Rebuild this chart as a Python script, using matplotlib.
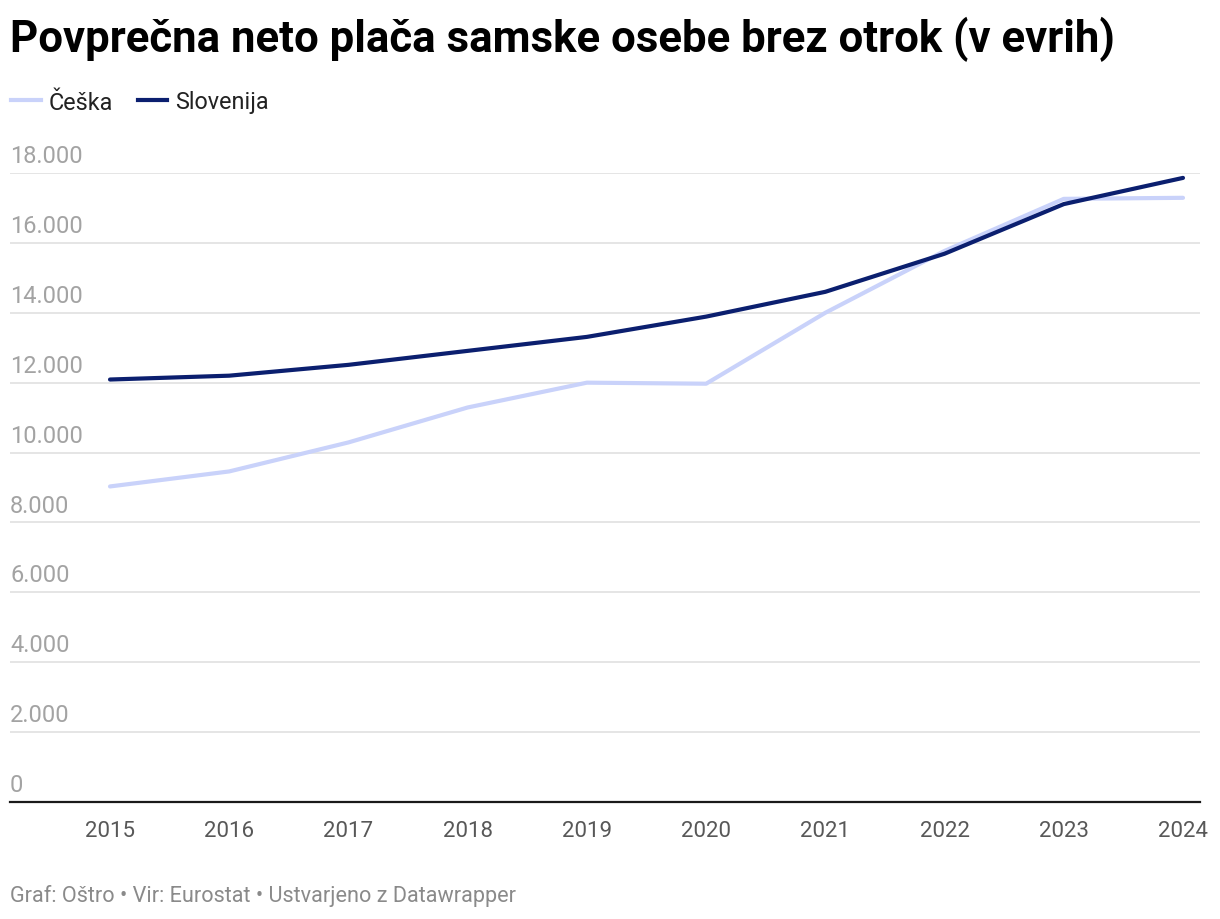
import matplotlib
matplotlib.use("Agg")
import matplotlib.pyplot as plt
from matplotlib.lines import Line2D

plt.rcParams['font.family'] = ['Roboto', 'DejaVu Sans']

years = [2015, 2016, 2017, 2018, 2019, 2020, 2021, 2022, 2023, 2024]
ceska = [9030, 9460, 10290, 11290, 12000, 11970, 14000, 15770, 17260, 17290]
slovenija = [12090, 12200, 12510, 12910, 13310, 13890, 14600, 15690, 17110, 17860]
yticks = [0, 2000, 4000, 6000, 8000, 10000, 12000, 14000, 16000, 18000]

c_ceska = '#c9d2fa'
c_slo = '#0b1f6f'

fig = plt.figure(figsize=(12.2, 9.2), dpi=100)
ax = fig.add_axes([10 / 1220, 117 / 920, 1190 / 1220, 629 / 920])

ax.plot(years, ceska, color=c_ceska, lw=3, solid_capstyle='round', zorder=3, clip_on=False)
ax.plot(years, slovenija, color=c_slo, lw=3, solid_capstyle='round', zorder=4, clip_on=False)

ax.set_xlim(2015 - 100 / 119.2, 2024 + 17 / 119.2)
ax.set_ylim(0, 18000)

for s in ['top', 'right', 'left']:
    ax.spines[s].set_visible(False)
ax.spines['bottom'].set_color('#1a1a1a')
ax.spines['bottom'].set_linewidth(1.6)

# gridlines, labels sit just above each line
for v in yticks[1:]:
    ax.axhline(v, color='#e3e3e3', lw=1.3, zorder=1)
ax.set_yticks([])
for v in yticks:
    lab = '{:,}'.format(v).replace(',', '.')
    ax.text(0, v + 170, lab, transform=ax.get_yaxis_transform(), ha='left', va='bottom',
            fontsize=17, color='#a3a3a3')

ax.set_xticks(years)
ax.set_xticklabels([str(y) for y in years], fontsize=16, color='#585858')
ax.tick_params(axis='x', length=0, pad=13)

fig.text(10 / 1220, 1 - 39 / 920, 'Povprečna neto plača samske osebe brez otrok (v evrih)',
         fontsize=31.5, fontweight='bold', color='#000000', ha='left', va='center')

handles = [Line2D([], [], color=c_ceska, lw=3), Line2D([], [], color=c_slo, lw=3)]
fig.legend(handles, ['Češka', 'Slovenija'], loc='center left',
           bbox_to_anchor=(2 / 1220, 1 - 103 / 920), ncol=2, frameon=False,
           fontsize=16.8, handlelength=1.25, handletextpad=0.33, columnspacing=1.1,
           labelcolor='#222222', borderaxespad=0)

fig.text(10 / 1220, 1 - 896 / 920, 'Graf: Oštro • Vir: Eurostat • Ustvarjeno z Datawrapper',
         fontsize=15.6, color='#8a8a8a', ha='left', va='center')

fig.savefig('out.png', dpi=100, facecolor='white')
